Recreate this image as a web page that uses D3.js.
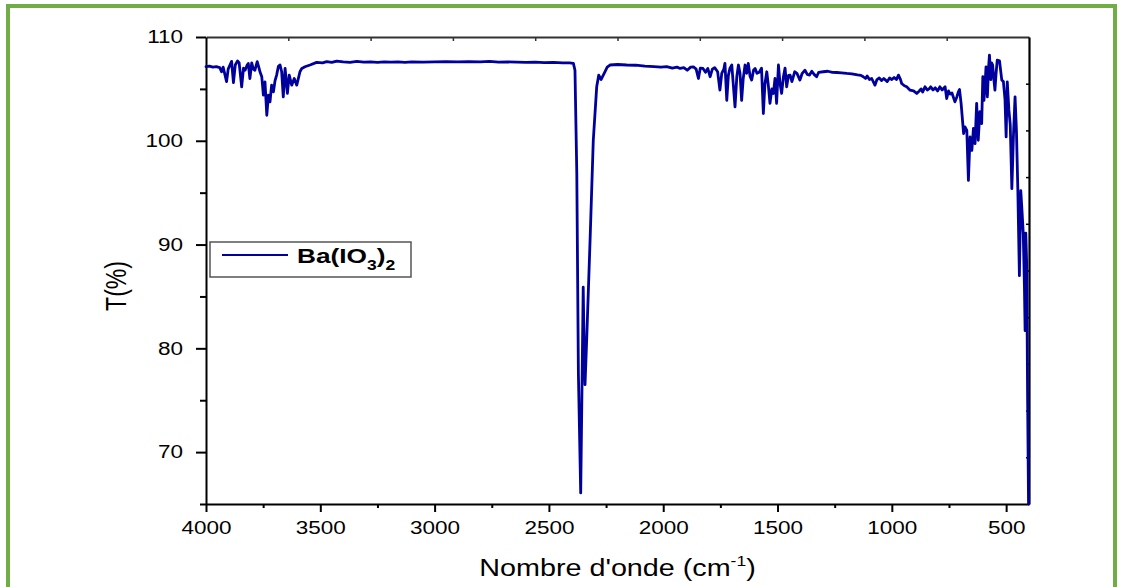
<!DOCTYPE html>
<html><head><meta charset="utf-8">
<script src="https://cdn.jsdelivr.net/npm/d3@7"></script>
<style>
body{margin:0;background:#fff;}
svg{display:block;}
text{font-family:"Liberation Sans",Arial,sans-serif;fill:#000;}
</style>
</head><body>
<svg id="chart" width="1121" height="587"></svg>
<script>
// ---- data ----
const wavenumbers = [
4000,3985,3970,3955,3940,3932,3925,3910,3903,3888,3880,3872,3862,3855,3844,3836,3829,3820,3815,3808,
3800,3793,3786,3776,3768,3764,3756,3749,3742,3734,3727,3720,3713,3705,3698,3691,3683,3676,3669,3662,
3654,3644,3636,3625,3614,3603,3589,3581,3567,3545,3516,3490,3472,3450,3428,3400,3370,3340,3310,3280,
3250,3220,3190,3160,3130,3100,3050,3000,2950,2900,2850,2800,2760,2720,2680,2640,2600,2560,2520,2480,
2440,2410,2393,2386,2378,2371,2361,2356,2350,2346,2342,2335,2320,2306,2291,2282,2272,2255,2245,2233,
2200,2160,2120,2080,2040,2010,1985,1960,1940,1926,1910,1895,1880,1868,1856,1846,1838,1826,1815,1805,
1795,1785,1775,1762,1752,1744,1735,1730,1722,1715,1708,1700,1686,1678,1671,1664,1657,1650,1642,1635,
1628,1620,1613,1605,1598,1590,1580,1570,1562,1555,1547,1540,1533,1525,1518,1511,1504,1496,1489,1482,
1474,1467,1460,1452,1445,1437,1425,1415,1402,1392,1380,1370,1360,1350,1340,1329,1320,1300,1280,1260,
1240,1220,1197,1175,1150,1135,1125,1115,1108,1098,1088,1074,1065,1055,1045,1035,1020,1010,1000,990,
980,971,962,957,945,935,920,905,891,880,872,865,855,845,837,830,820,810,800,790,
780,767,760,752,745,737,724,716,709,704,697,686,680,672,665,658,650,643,636,629,
622,615,607,602,597,592,588,582,577,573,567,563,559,554,549,544,539,529,519,512,
505,500,495,488,482,475,468,461,455,449,442,436,430,425,420,417,414,410,406,402
];
const transmittance = [
107.15,107.2,107.1,107.15,107.05,106.65,107.1,105.7,106.9,107.65,105.6,107.3,107.7,107.5,105.2,107.0,106.8,107.3,107.45,106.0,
107.5,106.9,106.8,107.62,107.0,106.65,106.17,104.4,105.68,102.46,104.4,103.75,105.36,104.72,105.8,106.33,107.2,107.3,106.65,104.23,
106.97,104.56,106.33,105.36,106.0,105.36,106.65,106.97,107.13,107.3,107.55,107.5,107.62,107.55,107.68,107.6,107.55,107.65,107.58,107.6,
107.55,107.6,107.57,107.6,107.56,107.6,107.58,107.6,107.62,107.6,107.63,107.6,107.65,107.58,107.6,107.57,107.55,107.57,107.54,107.55,
107.5,107.5,107.46,106.8,96.8,77.5,66.07,75.0,85.9,80.0,76.5,80.7,90.4,100.0,105.2,106.33,105.9,106.65,107.1,107.3,
107.35,107.3,107.28,107.2,107.15,107.1,107.15,107.0,107.1,106.97,107.05,106.8,107.1,107.13,106.9,106.0,107.0,106.97,106.6,106.97,
106.17,106.9,107.05,106.65,104.88,106.5,106.9,107.46,103.9,106.3,107.0,107.3,103.27,106.2,107.3,106.5,103.9,106.0,107.3,106.5,
107.46,106.2,105.85,106.8,106.97,106.5,106.6,107.0,102.63,105.5,106.65,105.3,103.6,105.0,104.56,106.0,103.6,107.3,105.5,104.56,
106.2,107.0,105.2,106.3,106.33,105.7,106.65,106.5,105.85,106.5,106.8,106.4,106.33,106.7,106.4,106.17,106.6,106.65,106.7,106.6,
106.58,106.55,106.49,106.45,106.35,106.3,106.17,106.0,106.25,105.9,106.0,105.36,105.9,106.05,105.8,106.0,105.7,106.05,105.9,106.1,
105.9,106.33,105.9,105.52,105.3,105.2,104.88,104.8,104.56,104.8,105.0,104.7,105.2,104.9,105.0,105.2,104.9,105.1,104.8,105.2,
104.9,105.2,104.07,104.8,104.5,104.6,103.75,104.2,104.72,104.94,103.6,100.7,101.33,101.0,96.18,100.37,99.08,101.2,99.73,103.6,
100.05,102.8,101.66,106.17,103.9,105.5,107.13,104.23,107.0,108.26,105.9,107.5,107.3,106.0,104.88,106.5,107.78,107.7,105.85,105.7,
104.0,100.37,105.68,103.0,101.5,95.38,100.5,104.23,101.0,95.5,87.0,95.2,93.0,91.0,86.0,81.7,91.1,88.0,75.0,65.0
];
const seriesName = "Ba(IO";
const xTickValues = [4000,3500,3000,2500,2000,1500,1000,500];
const xMinorValues = [3750,3250,2750,2250,1750,1250,750];
const yTickValues = [70,80,90,100,110];
const yMinorValues = [65,75,85,95,105];
const xDomain = [4000,400];
const yDomain = [65,110];

(function(){
// ---- layout ----
const W = 1121, H = 587;
const mL = 206, mR = 1029, mT = 37, mB = 504;
const svg = d3.select("#chart");
svg.append("rect").attr("width",W).attr("height",H).attr("fill","#fff");

// green frame
svg.append("rect").attr("x",8).attr("y",6).attr("width",1107).attr("height",640)
  .attr("fill","none").attr("stroke","#70AD47").attr("stroke-width",4);

const x = d3.scaleLinear().domain(xDomain).range([mL,mR]);
const y = d3.scaleLinear().domain(yDomain).range([mB,mT]);
const SX = 1.25; // horizontal text stretch seen in the reference

// top / right frame lines and inner ticks
const xTop = d3.scaleLinear().domain([0,10]).range([mL,mR]);
const yRight = d3.scaleLinear().domain([0,10]).range([mT,mB]);
const topAx = svg.append("g").attr("transform",`translate(0,${mT})`)
  .call(d3.axisTop(xTop).tickValues(d3.range(1,10)).tickSize(-4).tickSizeOuter(0).tickFormat(""));
topAx.select(".domain").attr("stroke","#333").attr("stroke-width",1.8);
topAx.selectAll(".tick line").attr("stroke","#333").attr("stroke-width",1.5);
const rightAx = svg.append("g").attr("transform",`translate(${mR},0)`)
  .call(d3.axisRight(yRight).tickValues(d3.range(1,10)).tickSize(-3).tickSizeOuter(0).tickFormat(""));
rightAx.select(".domain").attr("stroke","#000").attr("stroke-width",2.2);
rightAx.selectAll(".tick line").attr("stroke","#000").attr("stroke-width",1.5);

// bottom axis
const bx = svg.append("g").attr("transform",`translate(0,${mB})`)
  .call(d3.axisBottom(x).tickValues(xTickValues).tickSize(8).tickSizeOuter(0).tickFormat(d3.format("d")));
bx.select(".domain").attr("stroke","#000").attr("stroke-width",2);
bx.selectAll(".tick line").attr("stroke","#000").attr("stroke-width",2);
bx.selectAll(".tick text").attr("y",30).attr("dy",0).attr("transform",`scale(${SX},1)`)
  .style("font-size","18px").style("font-family","'Liberation Sans',Arial,sans-serif");
const bxm = svg.append("g").attr("transform",`translate(0,${mB})`)
  .call(d3.axisBottom(x).tickValues(xMinorValues).tickSize(4).tickSizeOuter(0).tickFormat(""));
bxm.select(".domain").remove();
bxm.selectAll(".tick line").attr("stroke","#000").attr("stroke-width",2);

// left axis
const ly = svg.append("g").attr("transform",`translate(${mL},0)`)
  .call(d3.axisLeft(y).tickValues(yTickValues).tickSize(10).tickSizeOuter(0).tickFormat(d3.format("d")));
ly.select(".domain").attr("stroke","#000").attr("stroke-width",2);
ly.selectAll(".tick line").attr("stroke","#000").attr("stroke-width",2);
ly.selectAll(".tick text").attr("x",-23/SX).attr("transform",`scale(${SX},1)`)
  .style("font-size","18px").style("font-family","'Liberation Sans',Arial,sans-serif");
const lym = svg.append("g").attr("transform",`translate(${mL},0)`)
  .call(d3.axisLeft(y).tickValues(yMinorValues).tickSize(6).tickSizeOuter(0).tickFormat(""));
lym.select(".domain").remove();
lym.selectAll(".tick line").attr("stroke","#000").attr("stroke-width",2);

// series line
const pts = wavenumbers.map((w,i)=>[w,transmittance[i]]);
const line = d3.line().x(d=>x(d[0])).y(d=>y(d[1]));
svg.append("path").datum(pts).attr("d",line).attr("fill","none")
  .attr("stroke","#00009C").attr("stroke-width",2.8).attr("stroke-linejoin","round").attr("stroke-linecap","round");

// axis titles
const xt = svg.append("text").attr("transform",`translate(${(mL+mR)/2},576) scale(${SX},1)`)
  .attr("text-anchor","middle").style("font-size","23px");
xt.append("tspan").text("Nombre d'onde (cm");
xt.append("tspan").attr("dy",-10).style("font-size","14px").text("-1");
xt.append("tspan").attr("dy",10).text(")");

svg.append("text").attr("transform",`translate(126,286) scale(${SX},1) rotate(-90)`)
  .attr("text-anchor","middle").style("font-size","23px").text("T(%)");

// legend
const lg = svg.append("g");
lg.append("rect").attr("x",210).attr("y",242).attr("width",201).attr("height",35)
  .attr("fill","#fff").attr("stroke","#555").attr("stroke-width",1.5);
lg.append("line").attr("x1",222).attr("x2",288).attr("y1",255).attr("y2",255)
  .attr("stroke","#00009C").attr("stroke-width",2);
const lt = lg.append("text").attr("transform",`translate(297,263) scale(${SX},1)`)
  .style("font-size","21px").style("font-weight","bold");
lt.append("tspan").text(seriesName);
lt.append("tspan").attr("dy",7).style("font-size","14px").text("3");
lt.append("tspan").attr("dy",-7).text(")");
lt.append("tspan").attr("dy",7).style("font-size","14px").text("2");
})();
</script>
</body></html>
